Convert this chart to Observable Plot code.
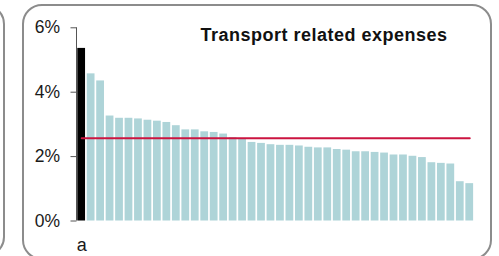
<!DOCTYPE html>
<html>
<head>
<meta charset="utf-8">
<script src="https://cdn.jsdelivr.net/npm/d3@7"></script>
<script src="https://cdn.jsdelivr.net/npm/@observablehq/plot@0.6"></script>
<style>
  html, body { margin: 0; padding: 0; background: #fff; }
  #wrap { position: relative; width: 499px; height: 256px; overflow: hidden; font-family: Arial, "Liberation Sans", sans-serif; }
  .panel { position: absolute; box-sizing: border-box; border: 2px solid #8c8c8c; border-radius: 20px; }
  #leftPanel { left: -40px; top: 4px; width: 45px; height: 253px; }
  #mainPanel { left: 22px; top: 4px; width: 470px; height: 256px; }
  #chart { position: absolute; left: 0; top: 0; }
  #title { position: absolute; left: 196px; top: 25px; width: 256px; text-align: center; font-weight: bold; font-size: 18px; color: #111; white-space: nowrap; letter-spacing: 0.5px; }
</style>
</head>
<body>
<div id="wrap">
  <div class="panel" id="leftPanel"></div>
  <div class="panel" id="mainPanel"></div>
  <div id="chart"></div>
  <div id="title"></div>
</div>
<script>
const title = "Transport related expenses";
const categories = ["a","b","c","d","e","f","g","h","i","j","k","l","m","n","o","p","q","r","s","t","u","v","w","x","y","z","aa","ab","ac","ad","ae","af","ag","ah","ai","aj","ak","al","am","an","ao","ap"];
const values = [5.36, 4.57, 4.35, 3.26, 3.19, 3.19, 3.17, 3.13, 3.10, 3.06, 2.96, 2.83, 2.83, 2.77, 2.75, 2.70, 2.59, 2.54, 2.44, 2.41, 2.37, 2.35, 2.35, 2.33, 2.29, 2.27, 2.27, 2.22, 2.20, 2.15, 2.15, 2.13, 2.11, 2.05, 2.05, 2.01, 1.97, 1.81, 1.79, 1.77, 1.22, 1.16];
const highlighted = ["a"];
const average = 2.57;
const yTicks = [0, 2, 4, 6];
const xTickLabels = ["a"];

const rows = categories.map((c, i) => ({cat: c, value: values[i], hi: highlighted.includes(c)}));

document.getElementById("title").textContent = title;

// vertical y-axis line along the left edge of the plot frame
function yAxisLine(index, scales, values, dimensions) {
  const {marginLeft, marginTop, height, marginBottom} = dimensions;
  const ns = "http://www.w3.org/2000/svg";
  const line = document.createElementNS(ns, "line");
  line.setAttribute("x1", marginLeft - 0.5);
  line.setAttribute("x2", marginLeft - 0.5);
  line.setAttribute("y1", marginTop);
  line.setAttribute("y2", height - marginBottom);
  line.setAttribute("stroke", "#555");
  line.setAttribute("stroke-width", 1);
  return line;
}

const chart = Plot.plot({
  width: 499,
  height: 256,
  marginLeft: 77,
  marginRight: 25.6,
  marginTop: 27.3,
  marginBottom: 35.5,
  style: {fontFamily: "Arial, 'Liberation Sans', sans-serif", fontSize: "17px", color: "#1a1a1a", background: "transparent", overflow: "visible"},
  x: {domain: categories, paddingInner: 0.18, paddingOuter: 0.03, round: false, axis: null},
  y: {domain: [0, 6], axis: null},
  marks: [
    Plot.barY(rows, {x: "cat", y: "value", fill: d => d.hi ? "#000000" : "#aed4d8"}),
    yAxisLine,
    Plot.axisY(yTicks, {tickSize: 6, tickPadding: 11, tickFormat: d => d + "%", stroke: "#555", fontSize: 17.5, label: null, dx: -0.5}),
    Plot.ruleY([0], {stroke: "#444", strokeWidth: 1.5, x1: null}),
    Plot.lineY(rows, {x: "cat", y: () => average, stroke: "#cc1440", strokeWidth: 2}),
    Plot.axisX(xTickLabels, {tickSize: 0, tickPadding: 17, fontSize: 18, label: null})
  ]
});
document.getElementById("chart").appendChild(chart);
</script>
</body>
</html>
